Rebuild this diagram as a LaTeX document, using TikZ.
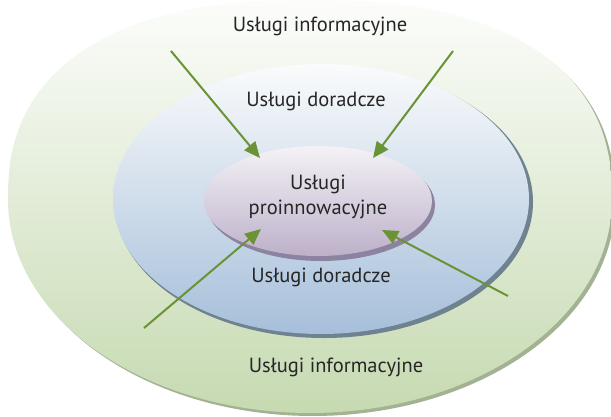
\documentclass[tikz,border=0pt]{standalone}
\usepackage{fontspec}
\setmainfont{PT Sans}
\usetikzlibrary{shapes.geometric,arrows.meta}
\definecolor{arrgreen}{HTML}{6A9336}
\definecolor{outtop}{HTML}{FCFDFB}
\definecolor{outbot}{HTML}{C6DAB1}
\definecolor{outrim}{HTML}{A3B292}
\definecolor{midtop}{HTML}{FAFBFC}
\definecolor{midbot}{HTML}{A6BFDA}
\definecolor{midrim}{HTML}{6F8290}
\definecolor{intop}{HTML}{F4F2F6}
\definecolor{inbot}{HTML}{BDB0C9}
\definecolor{inrim}{HTML}{8C83A0}
\tikzset{
  ring/.style={ellipse, inner sep=0pt, draw=none},
  lbl/.style={font=\fontsize{20.5}{25.5}\selectfont, text=black!85, align=center, inner sep=0pt},
  arr/.style={draw=arrgreen, line width=2pt, -{Triangle[length=16pt,width=14pt]}},
}
\newcommand{\outershape}{plot[domain=0.2:179.8, samples=120, variable=\t]
  ({310+302*sign(cos(\t))*pow(abs(cos(\t)),0.8333)}, {200-200*pow(sin(\t),0.8333)})
  -- plot[domain=180:360, samples=120, variable=\t]
  ({310+302*cos(\t)}, {200-213*sin(\t)}) -- cycle}
\begin{document}
\begin{tikzpicture}[x=1pt,y=-1pt]
\useasboundingbox (0,0) rectangle (611,416);
\clip (0,0) rectangle (611,416);
\fill[white] (0,0) rectangle (611,416);
% outer
\begin{scope}[shift={(3,3)}]
\fill[outrim] \outershape;
\end{scope}
\shade[top color=outtop, bottom color=outbot] \outershape;
% middle
\node[ring, fill=midrim, minimum width=418pt, minimum height=272pt] (midshadow) at (324,202) {};
\node[ring, top color=midtop, bottom color=midbot, minimum width=416pt, minimum height=270pt] (middle) at (321,199) {};
% inner
\node[ring, fill=inrim, minimum width=228pt, minimum height=112pt] (inshadow) at (321,205) {};
\node[ring, top color=intop, bottom color=inbot, minimum width=228pt, minimum height=110pt] (inner) at (318,201) {};
% labels
\node[lbl] (t1) at (320,26) {Usługi informacyjne};
\node[lbl] (t2) at (316,101) {Usługi doradcze};
\node[lbl] (t3) at (318,197) {Usługi\\proinnowacyjne};
\node[lbl] (t4) at (321,277) {Usługi doradcze};
\node[lbl] (t5) at (336,367) {Usługi informacyjne};
% arrows
\coordinate (a1s) at (171,51);
\coordinate (a1e) at (260,158);
\coordinate (a2s) at (453,51);
\coordinate (a2e) at (373,158);
\coordinate (a3s) at (144,328);
\coordinate (a3e) at (261,229);
\coordinate (a4s) at (508,296);
\coordinate (a4e) at (382,230);
\draw[arr] (a1s) -- (a1e);
\draw[arr] (a2s) -- (a2e);
\draw[arr] (a3s) -- (a3e);
\draw[arr] (a4s) -- (a4e);
\end{tikzpicture}
\end{document}
